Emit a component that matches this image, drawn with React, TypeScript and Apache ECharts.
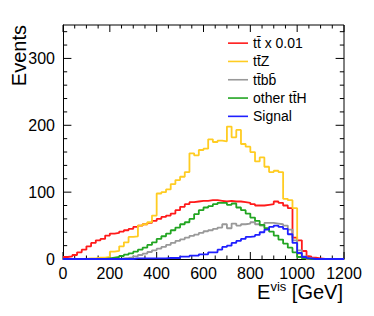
import React, { useEffect, useRef } from "react";
import * as echarts from "echarts";

const BIN_WIDTH = 20;
const X_MAX = 1200;
const Y_MAX = 350;
const xTickStep = 200;
const yTickStep = 100;

const xMajorTicks = [0, 200, 400, 600, 800, 1000, 1200];
const xMinorTicks = [50, 100, 150, 250, 300, 350, 450, 500, 550, 650, 700, 750, 850, 900, 950, 1050, 1100, 1150];
const yMajorTicks = [0, 100, 200, 300];
const yMinorTicks = [20, 40, 60, 80, 120, 140, 160, 180, 220, 240, 260, 280, 320, 340];

const seriesNames = ["tt\u0304 x 0.01", "tt\u0304Z", "tt\u0304bb\u0304", "other tt\u0304H", "Signal"];

const ttbar = [3, 4, 6, 10, 14, 19, 24, 28, 30, 35, 38, 39, 41, 43, 45, 48, 50, 52, 54, 57, 60, 63, 65, 68, 73, 78, 82, 85, 86, 87, 87, 88, 88, 87, 86, 87, 86, 86, 85, 84, 82, 80, 80, 81, 82, 86, 84, 80, 76, 32, 28, 12, 4, 2, 1, 0, 0, 0, 0, 0];
const ttZ = [0, 0, 0, 0, 0, 1, 1, 2, 2, 3, 11, 12, 19, 25, 33, 34, 50, 52, 55, 65, 98, 100, 104, 112, 118, 123, 130, 158, 155, 163, 165, 179, 175, 177, 176, 198, 182, 193, 172, 168, 160, 146, 152, 138, 130, 132, 130, 90, 88, 76, 8, 2, 0, 0, 0, 0, 0, 0, 0, 0];
const ttbb = [0, 0, 0, 0, 0, 0, 0, 0, 0, 0, 0, 0, 1, 1.5, 2.5, 4, 6, 8, 10.5, 13, 15.5, 18, 21, 24, 27, 29.5, 32, 34.5, 36.5, 39, 41.5, 43, 45, 47, 52, 46, 53, 50, 52, 53, 55, 52, 50, 54, 54, 53, 52, 50, 44, 28, 13, 4, 1, 0, 0, 0, 0, 0, 0, 0];
const otherTtH = [0, 0, 0, 0, 0, 0, 0, 0, 0, 1, 2, 3, 4.5, 6.5, 8.5, 11, 14, 17, 21, 25, 30, 34, 38, 43, 47, 52, 55, 60, 67, 73, 77, 79, 82, 84, 84, 81, 83, 77, 73, 68, 62, 57, 51, 46, 41, 35, 29, 23, 17, 10, 3, 1, 0, 0, 0, 0, 0, 0, 0, 0];
const signal = [0, 0, 0, 0, 0, 0, 0, 0, 0, 0, 0, 0, 0, 0, 0, 1, 1, 1, 1, 1, 1, 1, 1.5, 1.5, 1.5, 3.5, 3.5, 5, 5, 7, 7, 10, 10, 14, 18, 20, 24, 27, 30, 33, 34, 36, 40, 44, 48, 50, 48, 45, 37, 24, 9, 3, 1, 0, 0, 0, 0, 0, 0, 0];

const colors = ["#ff1a1a", "#ffcc22", "#999999", "#22a522", "#1f1fff"];
const FONT = "'Liberation Sans', Arial, Helvetica, sans-serif";

function histData(vals: number[]) {
  const pts: [number, number][] = vals.map((v, i) => [i * BIN_WIDTH, v]);
  pts.push([vals.length * BIN_WIDTH, vals[vals.length - 1]]);
  return pts;
}

function seg(x1: number, y1: number, x2: number, y2: number) {
  return { type: "line", shape: { x1, y1, x2, y2 }, style: { stroke: "#000000", lineWidth: 1 } };
}

export default function App() {
  const ref = useRef<HTMLDivElement>(null);
  useEffect(() => {
    if (!ref.current) return;
    const chart = echarts.init(ref.current, undefined, { renderer: "svg" });
    const allVals = [ttbar, ttZ, ttbb, otherTtH, signal];
    chart.setOption({
      animation: false,
      backgroundColor: "#ffffff",
      grid: { left: 63, right: 30, top: 25, bottom: 57, containLabel: false },
      xAxis: {
        type: "value",
        min: 0,
        max: X_MAX,
        interval: xTickStep,
        axisLine: { show: true, onZero: false, lineStyle: { color: "#000", width: 1 } },
        axisTick: { show: false },
        minorTick: { show: false },
        axisLabel: { fontSize: 16, color: "#000", margin: 6, fontFamily: FONT, formatter: (v: number) => String(v) },
        splitLine: { show: false },
      },
      yAxis: {
        type: "value",
        min: 0,
        max: Y_MAX,
        interval: yTickStep,
        axisLine: { show: true, onZero: false, lineStyle: { color: "#000", width: 1 } },
        axisTick: { show: false },
        axisLabel: {
          fontSize: 16,
          color: "#000",
          margin: 8,
          fontFamily: FONT,
          showMaxLabel: false,
          formatter: (v: number) => String(v),
        },
        splitLine: { show: false },
      },
      legend: {
        orient: "vertical",
        left: 228,
        top: 34,
        padding: 0,
        itemGap: 0,
        itemWidth: 20,
        itemHeight: 1.6,
        icon: "rect",
        selectedMode: false,
        data: seriesNames,
        textStyle: { fontSize: 14, lineHeight: 18.3, color: "#000", fontFamily: FONT },
      },
      series: [
        ...seriesNames.map((name, k) => ({
          type: "line",
          name,
          step: "end",
          symbol: "none",
          showSymbol: false,
          silent: true,
          lineStyle: { color: colors[k], width: 1.8 },
          itemStyle: { color: colors[k] },
          data: histData(allVals[k]),
        })),
        {
          type: "custom",
          clip: false,
          data: [[600, 175]],
          renderItem: (params: any, api: any) => {
            const tl = api.coord([0, Y_MAX]);
            const tr = api.coord([X_MAX, Y_MAX]);
            const br = api.coord([X_MAX, 0]);
            const children: any[] = [seg(tl[0], tl[1], tr[0], tr[1]), seg(tr[0], tr[1], br[0], br[1])];
            const addX = (v: number, len: number) => {
              const b = api.coord([v, 0]);
              const t = api.coord([v, Y_MAX]);
              children.push(seg(b[0], b[1], b[0], b[1] - len));
              children.push(seg(t[0], t[1], t[0], t[1] + len));
            };
            const addY = (v: number, len: number) => {
              const l = api.coord([0, v]);
              const r = api.coord([X_MAX, v]);
              children.push(seg(l[0], l[1], l[0] + len, l[1]));
              children.push(seg(r[0], r[1], r[0] - len, r[1]));
            };
            xMajorTicks.forEach((v) => addX(v, 7));
            xMinorTicks.forEach((v) => addX(v, 3.5));
            yMajorTicks.forEach((v) => addY(v, 8.4));
            yMinorTicks.forEach((v) => addY(v, 4.2));
            return { type: "group", children };
          },
        },
      ],
      graphic: [
        {
          type: "text",
          x: 19,
          y: 25,
          rotation: Math.PI / 2,
          style: { text: "Events", fontSize: 20, fontFamily: FONT, fill: "#000", align: "right", verticalAlign: "middle" },
        },
        {
          type: "text",
          x: 343,
          y: 292,
          style: {
            text: "{e|E}{s|vis}{e| [GeV]}",
            align: "right",
            verticalAlign: "middle",
            fill: "#000",
            rich: {
              e: { fontSize: 20, lineHeight: 24, fontFamily: FONT, fill: "#000" },
              s: { fontSize: 13, verticalAlign: "top", fontFamily: FONT, fill: "#000" },
            },
          },
        },
      ],
    });
    return () => chart.dispose();
  }, []);
  return <div ref={ref} style={{ position: "absolute", left: 0, top: 0, width: 374, height: 316 }} />;
}
